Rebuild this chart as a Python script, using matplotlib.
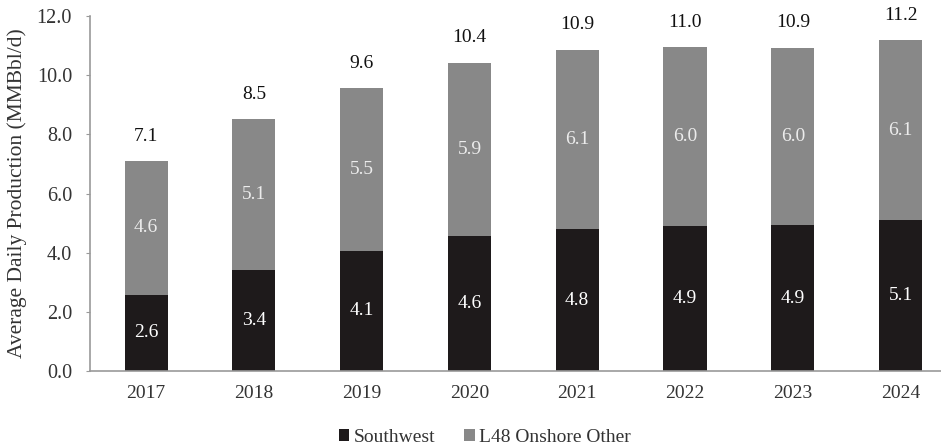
import matplotlib
matplotlib.use('agg')

import matplotlib.pyplot as plt
import numpy as np

years = ['2017', '2018', '2019', '2020', '2021', '2022', '2023', '2024']
southwest = [2.57, 3.40, 4.06, 4.57, 4.79, 4.90, 4.93, 5.10]
totals = [7.10, 8.52, 9.57, 10.43, 10.87, 10.96, 10.93, 11.19]
southwest_labels = ['2.6', '3.4', '4.1', '4.6', '4.8', '4.9', '4.9', '5.1']
other_labels = ['4.6', '5.1', '5.5', '5.9', '6.1', '6.0', '6.0', '6.1']
total_labels = ['7.1', '8.5', '9.6', '10.4', '10.9', '11.0', '10.9', '11.2']

plt.rcParams['font.family'] = ['Liberation Serif', 'DejaVu Serif']

dark = '#1e1a1b'
grey = '#888888'
text_col = '#333333'

fig = plt.figure(figsize=(9.41, 4.48), dpi=100)
ax = fig.add_axes([0.0957, 0.172, 0.9043, 0.792])

x = np.arange(len(years))
sw = np.array(southwest)
other = np.array(totals) - sw

ax.bar(x, sw, width=0.40, color=dark, label='Southwest')
ax.bar(x, other, width=0.40, bottom=sw, color=grey, label='L48 Onshore Other')

for i in range(len(years)):
    ax.text(x[i], sw[i] / 2, southwest_labels[i], ha='center', va='center',
            color='white', fontsize=14)
    ax.text(x[i], sw[i] + other[i] / 2, other_labels[i], ha='center', va='center',
            color='#ececec', fontsize=14)
    ax.text(x[i], totals[i] + 0.84, total_labels[i], ha='center', va='center',
            color='#111111', fontsize=14)

ax.set_xlim(-0.52, 7.375)
ax.set_ylim(0, 12)
ax.set_xticks(x)
ax.set_xticklabels(years)
ax.set_yticks(np.arange(0, 12.1, 2))
ax.set_yticklabels([f'{v:.1f}' for v in np.arange(0, 12.1, 2)])
ax.tick_params(axis='x', length=0, pad=10, labelsize=14, labelcolor=text_col)
ax.tick_params(axis='y', length=3, color='#999999', pad=10, labelsize=14.5, labelcolor=text_col)
ax.set_ylabel('Average Daily Production (MMBbl/d)', fontsize=15.5, color=text_col, labelpad=7)

for s in ['top', 'right']:
    ax.spines[s].set_visible(False)
for s in ['left', 'bottom']:
    ax.spines[s].set_color('#999999')
    ax.spines[s].set_linewidth(1.2)

fig.legend(loc='lower center', bbox_to_anchor=(0.515, -0.035), ncol=2, frameon=False,
           fontsize=14, handlelength=0.55, handleheight=0.55, handletextpad=0.2,
           columnspacing=1.5, labelcolor=text_col)

fig.savefig('out.png', dpi=100)
